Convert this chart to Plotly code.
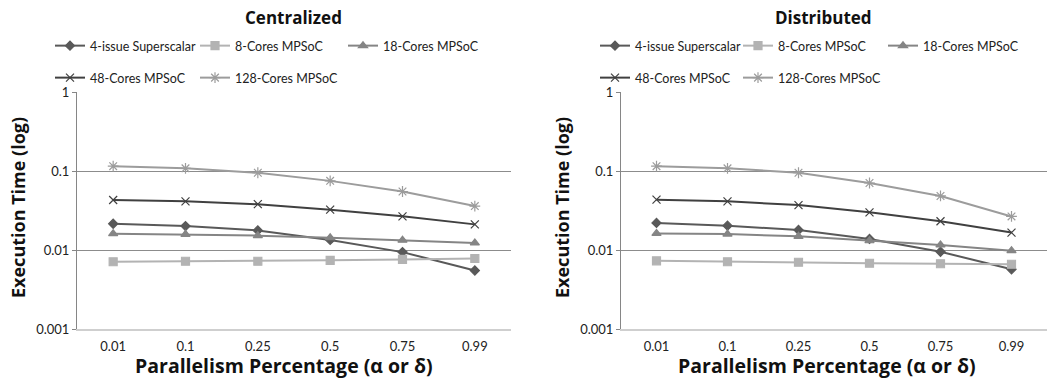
import plotly.graph_objects as go

categories = ["0.01", "0.1", "0.25", "0.5", "0.75", "0.99"]
series_names = ["4-issue Superscalar", "8-Cores MPSoC", "18-Cores MPSoC",
                "48-Cores MPSoC", "128-Cores MPSoC"]

central_4issue = [0.0215, 0.0201, 0.0177, 0.0134, 0.0094, 0.0055]
central_8 = [0.0071, 0.0072, 0.0072, 0.0074, 0.0076, 0.0078]
central_18 = [0.0161, 0.0158, 0.0152, 0.0143, 0.0133, 0.0123]
central_48 = [0.043, 0.0413, 0.038, 0.0324, 0.0267, 0.0211]
central_128 = [0.115, 0.108, 0.095, 0.075, 0.055, 0.036]

dist_4issue = [0.022, 0.0203, 0.0179, 0.0138, 0.0095, 0.0057]
dist_8 = [0.0073, 0.0071, 0.0070, 0.0068, 0.0067, 0.0066]
dist_18 = [0.0162, 0.0159, 0.0149, 0.0131, 0.0116, 0.0098]
dist_48 = [0.0434, 0.0413, 0.037, 0.030, 0.0231, 0.0166]
dist_128 = [0.115, 0.108, 0.095, 0.0705, 0.0483, 0.0266]

y_tickvals = [0.001, 0.01, 0.1, 1]
y_ticktext = ["0.001", "0.01", "0.1", "1"]

colors = ["#595959", "#b3b3b3", "#858585", "#404040", "#9c9c9c"]
symbols = ["diamond", "square", "triangle-up", "x-thin-open", "asterisk-open"]
msizes = [7, 8, 8, 8, 9]

W, H = 1047, 382
FONT = "Lato, 'Open Sans', sans-serif"
TFONT = "'Open Sans', Lato, sans-serif"

def px_x(p):
    return p / W

def px_y(p):
    return (H - p) / H

y_dom = [px_y(329), px_y(92)]
left_dom = [px_x(77), px_x(511)]
right_dom = [px_x(621), 1.0]

leg_x_left = [50, 195, 343, 50, 195]
leg_x_right = [595, 738, 883, 595, 738]
leg_y = [46, 46, 46, 78, 78]

fig = go.Figure()

central = [central_4issue, central_8, central_18, central_48, central_128]
dist = [dist_4issue, dist_8, dist_18, dist_48, dist_128]

legend_layout = {}
leg_idx = 0
for panel, data, xa, ya, lx in [(0, central, "x", "y", leg_x_left),
                                 (1, dist, "x2", "y2", leg_x_right)]:
    for i, name in enumerate(series_names):
        leg_idx += 1
        lname = "legend" if leg_idx == 1 else f"legend{leg_idx}"
        fig.add_trace(go.Scatter(
            x=categories, y=data[i], name=name, mode="lines+markers",
            xaxis=xa, yaxis=ya, legend=lname,
            line=dict(color=colors[i], width=2),
            marker=dict(symbol=symbols[i], size=msizes[i], color=colors[i],
                        line=dict(color=colors[i], width=1.2)),
        ))
        legend_layout[lname] = dict(
            x=px_x(lx[i]), y=px_y(leg_y[i]), xanchor="left", yanchor="middle",
            orientation="h", itemwidth=30, bgcolor="rgba(0,0,0,0)",
            font=dict(family=FONT, size=12.5, color="#222"))

common_y = dict(type="log", range=[-3, 0], tickvals=y_tickvals, ticktext=y_ticktext,
                showgrid=True, gridcolor="#8c8c8c", gridwidth=1,
                showline=True, linecolor="#868686", linewidth=1,
                ticks="outside", ticklen=4, tickcolor="#868686",
                tickfont=dict(family=FONT, size=13, color="#222"),
                zeroline=False, domain=y_dom)

common_x = dict(type="category", categoryorder="array", categoryarray=categories,
                range=[-0.5, 5.5], showgrid=False, showline=True,
                linecolor="#cfcfcf", linewidth=2, ticks="outside", ticklen=4,
                tickcolor="rgba(0,0,0,0)",
                tickfont=dict(family=FONT, size=13, color="#222"), zeroline=False)

axis_pos = y_dom[0] + (y_dom[1] - y_dom[0]) / 3.0
common_ov = dict(range=[-0.5, 5.5], tickvals=[k - 0.5 for k in range(7)],
                 showticklabels=False, showgrid=False, showline=True,
                 linecolor="#868686", linewidth=1, ticks="outside", ticklen=4,
                 tickcolor="#868686", anchor="free", position=axis_pos, zeroline=False)

fig.update_layout(
    width=W, height=H, margin=dict(l=0, r=0, t=0, b=0, autoexpand=False),
    paper_bgcolor="white", plot_bgcolor="white",
    font=dict(family=FONT, color="#222"),
    xaxis=dict(domain=left_dom, anchor="y", **common_x),
    xaxis2=dict(domain=right_dom, anchor="y2", **common_x),
    yaxis=dict(anchor="x", **common_y),
    yaxis2=dict(anchor="x2", **common_y),
    xaxis3=dict(overlaying="x", domain=left_dom, **common_ov),
    xaxis4=dict(overlaying="x2", domain=right_dom, **common_ov),
    showlegend=True,
    **legend_layout,
)

ann = [
    dict(text="<b>Centralized</b>", x=px_x(293), y=px_y(18), font=dict(size=17)),
    dict(text="<b>Distributed</b>", x=px_x(823), y=px_y(18), font=dict(size=17)),
    dict(text="<b>Execution Time (log)</b>", x=px_x(18), y=px_y(208), textangle=-90, font=dict(size=18)),
    dict(text="<b>Execution Time (log)</b>", x=px_x(562), y=px_y(208), textangle=-90, font=dict(size=18)),
    dict(text="<b>Parallelism Percentage (α or δ)</b>", x=px_x(284), y=px_y(365), font=dict(size=19.5)),
    dict(text="<b>Parallelism Percentage (α or δ)</b>", x=px_x(827), y=px_y(365), font=dict(size=19.5)),
]
for a in ann:
    a.update(xref="paper", yref="paper", showarrow=False, xanchor="center", yanchor="middle")
    a["font"].update(family=TFONT, color="#111")
fig.update_layout(annotations=ann)

fig.write_html("out.html", config={"displayModeBar": False},
               post_script="document.body.style.margin='0';document.body.style.padding='0';")
